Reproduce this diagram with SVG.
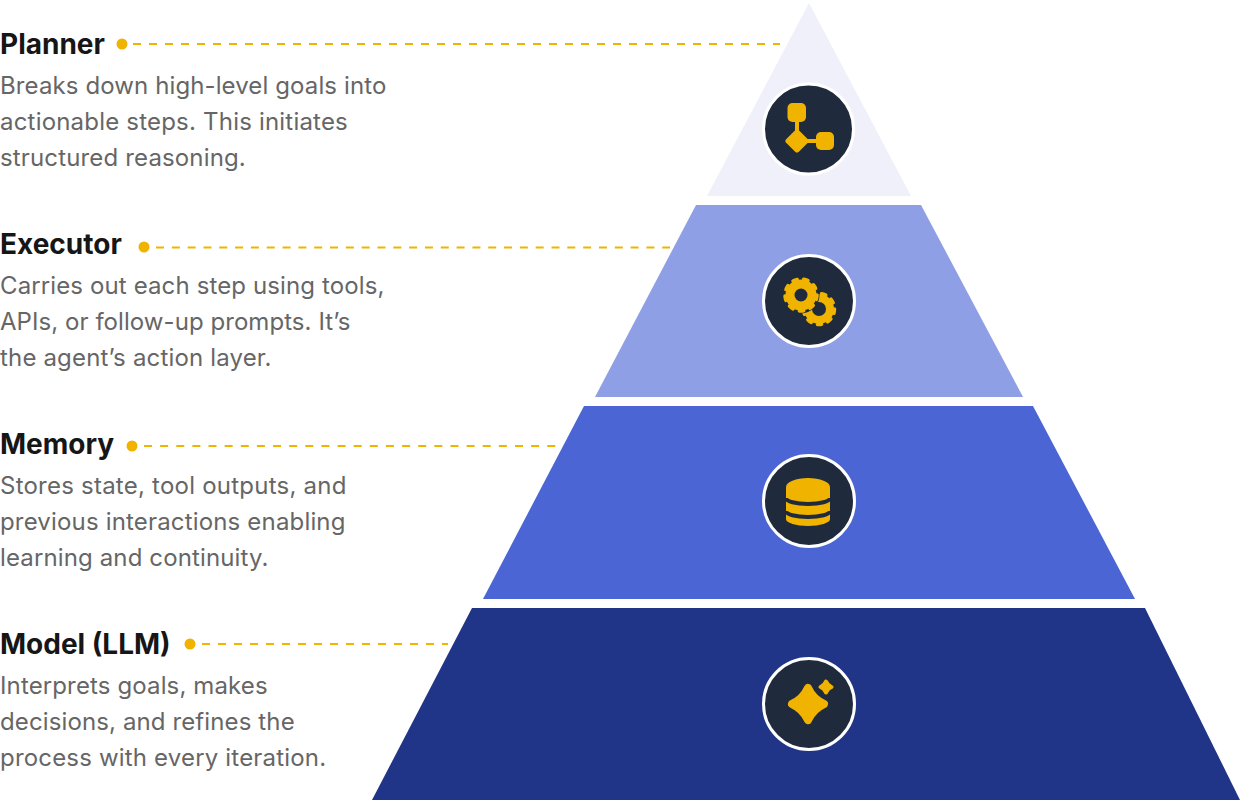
<svg xmlns="http://www.w3.org/2000/svg" width="1240" height="800" viewBox="0 0 1240 800">
<style>
.t{font-family:Inter,"Liberation Sans",sans-serif;font-size:28px;font-weight:700;fill:#161616}
.b{font-family:Inter,"Liberation Sans",sans-serif;font-size:24px;fill:#666}
.d{stroke:#F0B400;stroke-width:2;fill:none}
.dot{fill:#F0B400}
.disc{fill:#1F2A3C;stroke:#fff;stroke-width:3}
.y{fill:#F0B400}
.g{fill:none;stroke:#F0B400;stroke-linecap:round}
.s{fill:#F0B400;stroke:#F0B400;stroke-linejoin:round}
</style>
<rect width="1240" height="800" fill="#fff"/>
<g id="connectors">
<path class="d" stroke-dasharray="8 8" d="M133 44H780"/>
<path class="d" stroke-dasharray="8 7.820" d="M156 247.500H670"/>
<path class="d" stroke-dasharray="8 8.130" d="M144 446H556"/>
<path class="d" stroke-dasharray="8 8" d="M202 644H448"/>
</g>
<g id="planner">
<path d="M809 3L911 196H707Z" fill="#F0F0FB"/>
<circle class="dot" cx="122" cy="44" r="5.500"/>
<text class="t" x="0" y="54">Planner</text>
<text class="b" x="0" y="94" letter-spacing=".11">Breaks down high-level goals into</text>
<text class="b" x="0" y="130" letter-spacing=".2">actionable steps. This initiates</text>
<text class="b" x="0" y="166" letter-spacing=".15">structured reasoning.</text>
<circle class="disc" cx="808.500" cy="129" r="45"/>
<rect class="y" x="787.500" y="103" width="18.500" height="19" rx="5"/>
<rect class="y" x="816" y="132" width="18" height="18" rx="5"/>
<rect class="y" x="795" y="120" width="4" height="12"/>
<rect class="y" x="804" y="139" width="14" height="4"/>
<rect class="y" x="788" y="132" width="18" height="18" rx="3" transform="rotate(45 797 141)"/>
</g>
<g id="executor">
<path d="M696 205H921L1023 397H595Z" fill="#8F9FE5"/>
<circle class="dot" cx="144" cy="247" r="5.500"/>
<text class="t" x="0" y="254">Executor</text>
<text class="b" x="0" y="294" letter-spacing=".12">Carries out each step using tools,</text>
<text class="b" x="0" y="330" letter-spacing=".06">APIs, or follow-up prompts. It’s</text>
<text class="b" x="0" y="366" letter-spacing=".17">the agent’s action layer.</text>
<circle class="disc" cx="809" cy="301" r="45.500"/>
<circle class="y" cx="819" cy="309" r="15"/>
<circle class="g" cx="819" cy="309" r="15.500" stroke-width="3.500" pathLength="9" stroke-dasharray="0.4 0.6"/>
<circle cx="819" cy="309" r="7" fill="#1F2A3C"/>
<circle cx="801" cy="295" r="18.500" fill="#1F2A3C"/>
<circle class="y" cx="801" cy="295" r="15.500"/>
<circle class="g" cx="801" cy="295" r="16" stroke-width="3.500" pathLength="9" stroke-dasharray="0.4 0.6"/>
<circle cx="801" cy="295" r="6.500" fill="#1F2A3C"/>
</g>
<g id="memory">
<path d="M584 406H1033L1135 599H483Z" fill="#4B65D4"/>
<circle class="dot" cx="132" cy="446" r="5.500"/>
<text class="t" x="0" y="454">Memory</text>
<text class="b" x="0" y="494" letter-spacing=".23">Stores state, tool outputs, and</text>
<text class="b" x="0" y="530" letter-spacing=".17">previous interactions enabling</text>
<text class="b" x="0" y="566" letter-spacing=".13">learning and continuity.</text>
<circle class="disc" cx="809" cy="501" r="45.500"/>
<path class="y" d="M786 487A22 9 0 0 1 830 487V519A22 7 0 0 1 786 519Z"/>
<path d="M786 498A22 6 0 0 0 830 498M786 511A22 6 0 0 0 830 511" fill="none" stroke="#1F2A3C" stroke-width="4"/>
</g>
<g id="model">
<path d="M472 608H1145L1240 800H372Z" fill="#203587"/>
<circle class="dot" cx="190" cy="644" r="5.500"/>
<text class="t" x="0" y="654">Model (LLM)</text>
<text class="b" x="0" y="694" letter-spacing=".13">Interprets goals, makes</text>
<text class="b" x="0" y="730" letter-spacing=".12">decisions, and refines the</text>
<text class="b" x="0" y="766" letter-spacing=".18">process with every iteration.</text>
<circle class="disc" cx="809" cy="704" r="45.500"/>
<path class="s" stroke-width="8" d="M808 688Q813 699 824 704Q813 709 808 720Q803 709 792 704Q803 699 808 688Z"/>
<path class="s" stroke-width="4" d="M826 681.500Q827.500 685.500 831.500 687Q827.500 688.500 826 692.500Q824.500 688.500 820.500 687Q824.500 685.500 826 681.500Z"/>
</g>
</svg>
